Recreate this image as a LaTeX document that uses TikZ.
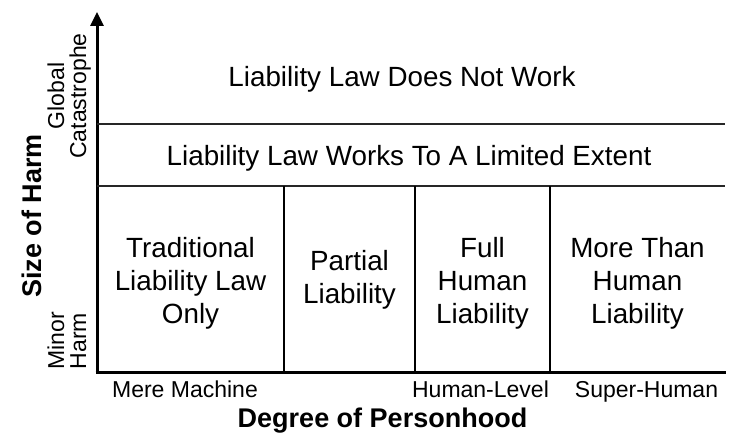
\documentclass[tikz,border=0pt]{standalone}
\usepackage{fontspec}
\setmainfont{Liberation Sans}
\usetikzlibrary{arrows.meta}
\begin{document}
\begin{tikzpicture}[x=1pt,y=-1pt,
  lbl/.style={anchor=base,inner sep=0pt,font=\fontsize{27.8}{33}\selectfont},
  ticklbl/.style={anchor=base,inner sep=0pt,font=\fontsize{23}{27}\selectfont},
  axlbl/.style={anchor=base,inner sep=0pt,font=\bfseries\fontsize{27}{33}\selectfont},
  band/.style={line width=1.2pt,draw=black!85},
  divider/.style={line width=1.3pt},
  axis/.style={line width=3pt}]
\path[use as bounding box,fill=white] (0,0) rectangle (730,433);

% axes
\coordinate (O) at (97,372);
\coordinate (Obelow) at (97,373.5);
\coordinate (Oleft) at (95.5,372);
\coordinate (ytop) at (97,12);
\coordinate (xend) at (726,372);
\draw[axis] (Oleft) -- (xend);
\draw[axis,-{Triangle[width=13pt,length=14pt]}] (Obelow) -- (ytop);

% harm bands
\coordinate (b1l) at (97,124);  \coordinate (b1r) at (725,124);
\coordinate (b2l) at (97,186);  \coordinate (b2r) at (725,186);
\draw[band] (b1l) -- (b1r);
\draw[band] (b2l) -- (b2r);

% personhood columns
\foreach \xx/\nm in {284/d1,415/d2,550/d3}{
  \coordinate (\nm t) at (\xx,186);
  \coordinate (\nm b) at (\xx,372);
  \draw[divider] (\nm t) -- (\nm b);
}

% band texts
\node[lbl] (notwork) at (402,87) {Liability Law Does Not Work};
\node[lbl] (limited) at (409,165) {Liability Law Works To A Limited Extent};

% column texts
\node[lbl] (trad1) at (190.5,257) {Traditional};
\node[lbl] (trad2) at (190.5,290) {Liability Law};
\node[lbl] (trad3) at (190.5,323) {Only};
\node[lbl] (part1) at (349.5,270) {Partial};
\node[lbl] (part2) at (349.5,303) {Liability};
\node[lbl] (full1) at (482.5,257) {Full};
\node[lbl] (full2) at (482.5,290) {Human};
\node[lbl] (full3) at (482.5,323) {Liability};
\node[lbl] (more1) at (637.5,257) {More Than};
\node[lbl] (more2) at (637.5,290) {Human};
\node[lbl] (more3) at (637.5,323) {Liability};

% x-axis ticks and title
\node[ticklbl] (mere) at (185,397) {Mere Machine};
\node[ticklbl] (human) at (480.5,397) {Human-Level};
\node[ticklbl] (super) at (646.5,397) {Super-Human};
\node[axlbl] (xtitle) at (382.5,427) {Degree of Personhood};

% y-axis ticks and title
\node[ticklbl,rotate=90] (glob1) at (64,96) {Global};
\node[ticklbl,rotate=90] (glob2) at (86,96) {Catastrophe};
\node[ticklbl,rotate=90] (minor1) at (64,341) {Minor};
\node[ticklbl,rotate=90] (minor2) at (86,341) {Harm};
\node[axlbl,rotate=90] (ytitle) at (41,216) {Size of Harm};
\end{tikzpicture}
\end{document}
